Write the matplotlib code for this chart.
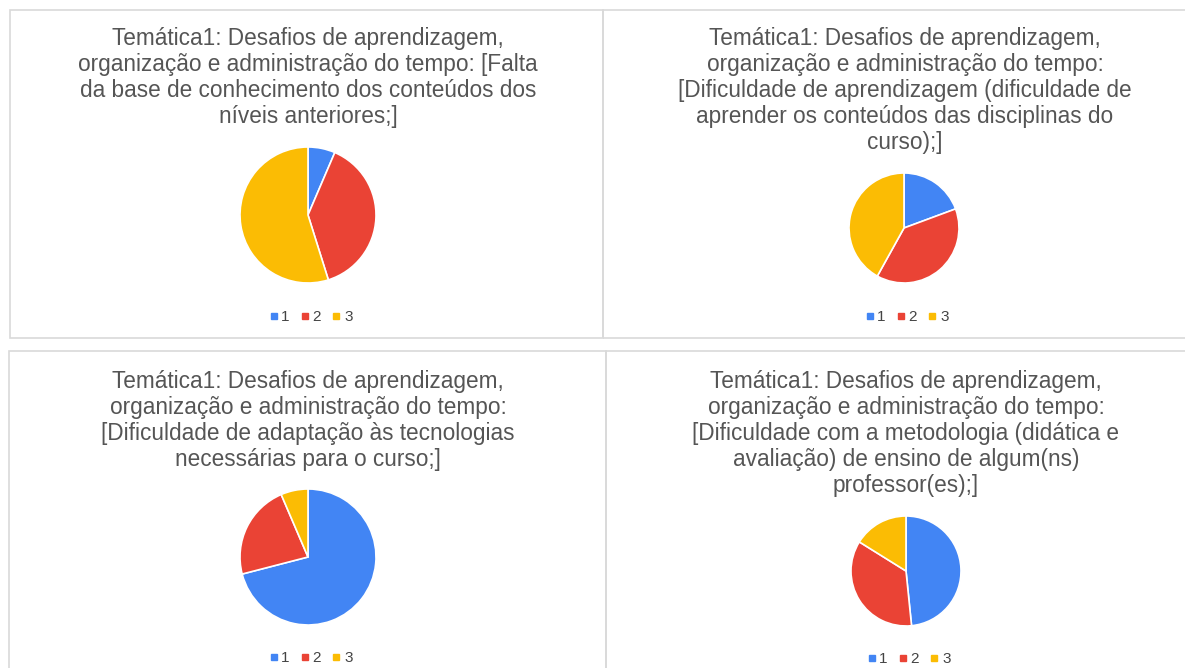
import matplotlib
matplotlib.use("Agg")
import matplotlib.pyplot as plt
from matplotlib.lines import Line2D
from matplotlib.patches import Rectangle

W, H = 1185, 668

categories = ["1", "2", "3"]
colors = ["#4285f4", "#ea4335", "#fbbc04"]

titles = [
    "Temática1: Desafios de aprendizagem,\norganização e administração do tempo: [Falta\nda base de conhecimento dos conteúdos dos\nníveis anteriores;]",
    "Temática1: Desafios de aprendizagem,\norganização e administração do tempo:\n[Dificuldade de aprendizagem (dificuldade de\naprender os conteúdos das disciplinas do\ncurso);]",
    "Temática1: Desafios de aprendizagem,\norganização e administração do tempo:\n[Dificuldade de adaptação às tecnologias\nnecessárias para o curso;]",
    "Temática1: Desafios de aprendizagem,\norganização e administração do tempo:\n[Dificuldade com a metodologia (didática e\navaliação) de ensino de algum(ns)\nprofessor(es);]",
]

falta_base = [2, 12, 17]
dif_aprendizagem = [6, 12, 13]
dif_tecnologias = [22, 7, 2]
dif_metodologia = [15, 11, 5]
values = [falta_base, dif_aprendizagem, dif_tecnologias, dif_metodologia]

# layout in pixels: panel box, title top, pie center, pie radius, legend y
panels = [
    dict(box=(10, 10, 603, 338), tx=308, ty=27, pc=(308, 215), r=68, ly=316),
    dict(box=(603, 10, 1190, 338), tx=905, ty=27, pc=(904, 228), r=55, ly=316),
    dict(box=(9, 351, 606, 672), tx=308, ty=370, pc=(308, 557), r=68, ly=657),
    dict(box=(606, 351, 1190, 672), tx=906, ty=370, pc=(906, 571), r=55, ly=658),
]

plt.rcParams["font.family"] = ["Liberation Sans", "DejaVu Sans"]
fig = plt.figure(figsize=(W / 100, H / 100), dpi=100)


def fx(x):
    return x / W


def fy(y):
    return 1 - y / H


for p, title, vals in zip(panels, titles, values):
    x0, y0, x1, y1 = p["box"]
    fig.patches.append(Rectangle((fx(x0), fy(y1)), fx(x1 - x0), (y1 - y0) / H,
                                 transform=fig.transFigure, fill=False,
                                 edgecolor="#d9d9d9", linewidth=1.2))
    fig.text(fx(p["tx"]), fy(p["ty"]), title, ha="center", va="top",
             fontsize=16.3, color="#555555", linespacing=1.165)

    cx, cy = p["pc"]
    r = p["r"]
    ax = fig.add_axes([fx(cx - r), fy(cy + r), fx(2 * r), 2 * r / H])
    ax.pie(vals, colors=colors, startangle=90, counterclock=False,
           wedgeprops=dict(edgecolor="white", linewidth=1.2))
    ax.set_xlim(-1, 1)
    ax.set_ylim(-1, 1)
    ax.set_aspect("equal")
    ax.axis("off")

    handles = [Line2D([], [], marker="s", linestyle="none", markersize=4,
                      color=c) for c in colors]
    fig.legend(handles, categories, loc="center",
               bbox_to_anchor=(fx(cx + 2), fy(p["ly"] + 1)), ncol=3, frameon=False,
               fontsize=11, labelcolor="#444444", handletextpad=0.1,
               columnspacing=0.6, handlelength=0.8)

fig.savefig("out.png", dpi=100)
